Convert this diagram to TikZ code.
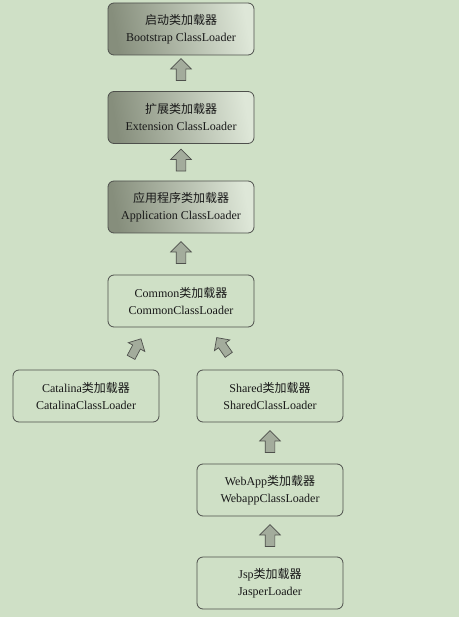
\documentclass[tikz,border=0pt]{standalone}
\usepackage{fontspec}
\setmainfont{Liberation Serif}
\newfontfamily\cjk{Noto Sans CJK SC}
\usetikzlibrary{shapes.arrows,positioning}
\definecolor{bggreen}{RGB}{207,224,198}
\definecolor{darkbox}{RGB}{134,142,124}
\definecolor{lightbox}{RGB}{222,231,216}
\definecolor{arrowfill}{RGB}{163,172,156}
\definecolor{edgegray}{RGB}{78,80,76}
\newcommand{\zh}[1]{{\cjk #1}}

\begin{document}
\begin{tikzpicture}
            [x=1pt,y=-1pt,
             loader/.style ={draw=edgegray,line width=0.8pt,rounded corners=6pt,
                             minimum width=146pt,minimum height=52pt,align=center,
                             font=\fontsize{12}{17}\selectfont,text=black!90},
             shaded/.style ={loader,left color=darkbox,right color=lightbox,shading angle=100},
             plain/.style ={loader,fill=bggreen},
             uparrow/.style ={draw=edgegray,line width=0.7pt,fill=arrowfill,single arrow,
                             single arrow head extend=5.5pt,inner xsep=0pt,inner ysep=4.5pt,
                             minimum height=22pt},
             smallarrow/.style ={uparrow,single arrow head extend=5pt,inner ysep=4pt,
                             minimum height=21pt}]
            \fill[bggreen] (0,0) rectangle (459,617);
            \useasboundingbox (0,0) rectangle (459,617);
            % JVM loaders
            \node[shaded] (boot) at (181,29) {\zh{启动类加载器}\\Bootstrap ClassLoader};
            \node[shaded] (ext) at (181,117.5) {\zh{扩展类加载器}\\Extension ClassLoader};
            \node[shaded] (app) at (181,207) {\zh{应用程序类加载器}\\Application ClassLoader};
            % Tomcat loaders
            \node[plain] (common) at (181,301) {Common\zh{类加载器}\\CommonClassLoader};
            \node[plain] (catalina) at (86,396) {Catalina\zh{类加载器}\\CatalinaClassLoader};
            \node[plain] (shared) at (270,396) {Shared\zh{类加载器}\\SharedClassLoader};
            \node[plain] (webapp) at (270,490) {WebApp\zh{类加载器}\\WebappClassLoader};
            \node[plain] (jsp) at (270,583) {Jsp\zh{类加载器}\\JasperLoader};
            % block arrows
            \node[uparrow,rotate=90] (a1) at (181,72) {};
            \node[uparrow,rotate=90] (a2) at (181,162.5) {};
            \node[uparrow,rotate=90] (a3) at (181,255) {};
            \node[smallarrow,rotate=62] (a4) at (135,350) {};
            \node[smallarrow,rotate=125] (a5) at (224,348) {};
            \node[uparrow,rotate=90] (a6) at (270,444) {};
            \node[uparrow,rotate=90] (a7) at (270,538) {};
        \end{tikzpicture}
\end{document}
